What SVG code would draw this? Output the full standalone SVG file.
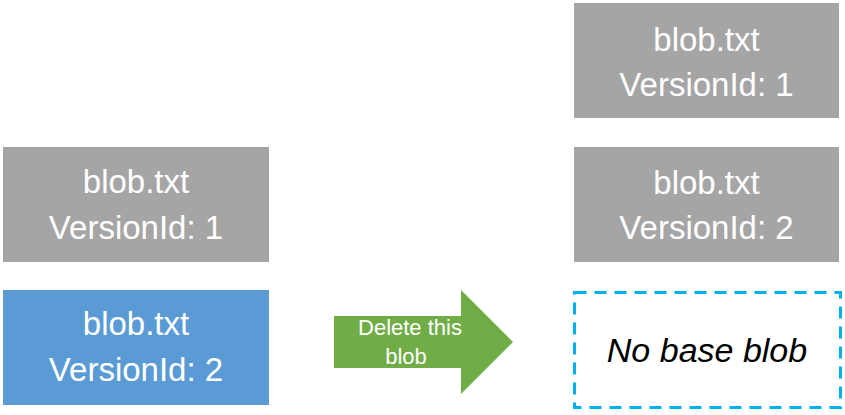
<svg xmlns="http://www.w3.org/2000/svg" width="845" height="415" viewBox="0 0 845 415">
<style>
.gray{fill:#a5a5a5}
.blue{fill:#5b9bd5}
.lbl{font-family:"Liberation Sans",Arial,sans-serif;font-size:33px;fill:#ffffff;text-anchor:middle}
.arrowlbl{font-family:"Liberation Sans",Arial,sans-serif;font-size:22px;fill:#ffffff;text-anchor:middle}
.none{font-family:"Liberation Sans",Arial,sans-serif;font-size:34px;font-style:italic;fill:#000000;text-anchor:middle}
</style>
<rect width="845" height="415" fill="#ffffff"/>
<g id="left-v1">
<rect class="gray" x="3" y="147" width="266" height="115"/>
<text class="lbl" x="136" y="193">blob.txt</text>
<text class="lbl" x="136" y="239">VersionId: 1</text>
</g>
<g id="left-v2">
<rect class="blue" x="3" y="290" width="266" height="115"/>
<text class="lbl" x="136" y="335">blob.txt</text>
<text class="lbl" x="136" y="381">VersionId: 2</text>
</g>
<g id="right-v1">
<rect class="gray" x="574" y="3" width="265" height="115"/>
<text class="lbl" x="706.5" y="51">blob.txt</text>
<text class="lbl" x="706.5" y="96">VersionId: 1</text>
</g>
<g id="right-v2">
<rect class="gray" x="574" y="147" width="265" height="115"/>
<text class="lbl" x="706.5" y="194">blob.txt</text>
<text class="lbl" x="706.5" y="239">VersionId: 2</text>
</g>
<g id="no-base">
<rect x="574.5" y="292.5" width="266" height="115" fill="#ffffff" stroke="#00b0f0" stroke-width="3" stroke-dasharray="12 8"/>
<text class="none" x="707" y="362">No base blob</text>
</g>
<g id="connectors">
<g id="delete-arrow">
<polygon points="334,316 461,316 461,290 513,342 461,394 461,368 334,368" fill="#70ad47"/>
<text class="arrowlbl" x="410" y="335">Delete this</text>
<text class="arrowlbl" x="406" y="364">blob</text>
</g>
</g>
</svg>
